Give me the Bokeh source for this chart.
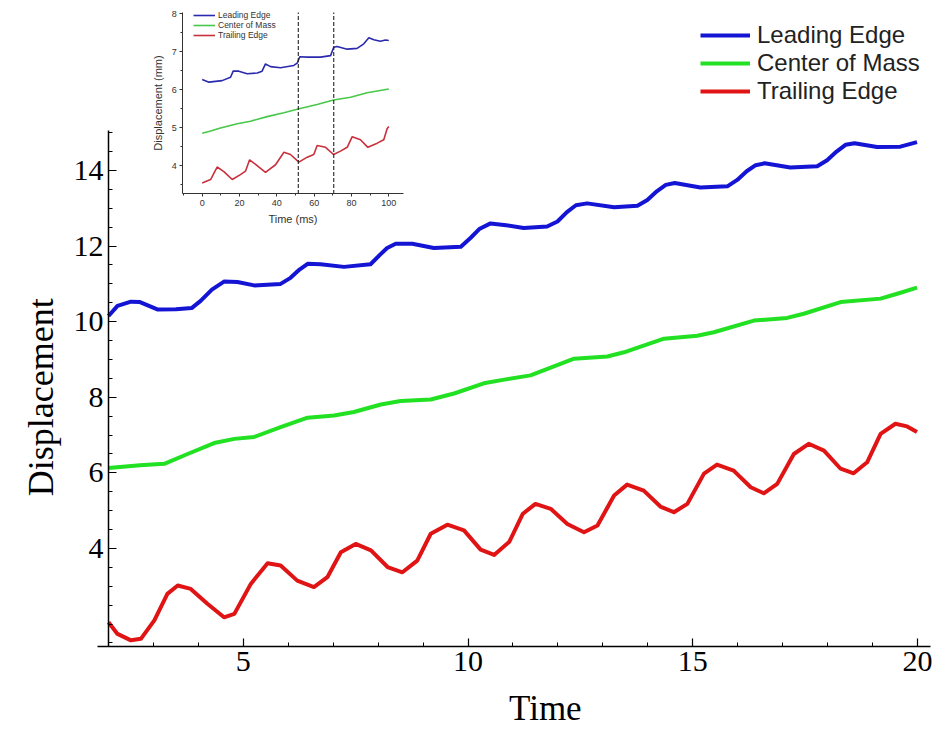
import numpy as np
from bokeh.plotting import figure
from bokeh.models import (Range1d, LinearAxis, FixedTicker, Legend, LegendItem, Label)
from bokeh.embed import file_html
from bokeh.resources import INLINE

# ---------------- main chart data ----------------
lead_t = [2.0, 2.2, 2.5, 2.7, 3.1, 3.5, 3.85, 4.05, 4.3, 4.57, 4.87, 5.24, 5.83, 6.05, 6.25, 6.43,
          6.72, 7.24, 7.83, 8.05, 8.2, 8.39, 8.76, 9.24, 9.84, 10.06, 10.25, 10.5, 10.8, 11.24,
          11.76, 11.99, 12.2, 12.4, 12.65, 13.25, 13.77, 13.99, 14.2, 14.4, 14.6, 15.17, 15.77,
          15.99, 16.2, 16.4, 16.6, 17.17, 17.77, 17.99, 18.2, 18.4, 18.6, 19.1, 19.62, 19.99]
lead_d = [10.15, 10.42, 10.53, 10.52, 10.32, 10.33, 10.36, 10.55, 10.85, 11.06, 11.05, 10.96, 11.0,
          11.16, 11.38, 11.53, 11.52, 11.45, 11.52, 11.78, 11.95, 12.06, 12.06, 11.95, 11.98,
          12.22, 12.45, 12.6, 12.56, 12.48, 12.52, 12.65, 12.9, 13.08, 13.13, 13.03, 13.07, 13.22,
          13.45, 13.62, 13.67, 13.55, 13.58, 13.75, 13.98, 14.14, 14.19, 14.08, 14.11, 14.27,
          14.5, 14.68, 14.72, 14.62, 14.63, 14.75]

com_t = [2.0, 2.7, 3.24, 3.76, 4.35, 4.8, 5.24, 5.83, 6.43, 7.02, 7.46, 8.06, 8.5, 9.17, 9.69,
         10.35, 10.87, 11.39, 12.36, 13.1, 13.47, 14.36, 15.1, 15.47, 16.36, 17.1, 17.47, 18.29,
         19.18, 19.55, 19.99]
com_d = [6.13, 6.2, 6.24, 6.5, 6.79, 6.9, 6.95, 7.21, 7.46, 7.52, 7.61, 7.81, 7.9, 7.94, 8.1,
         8.37, 8.48, 8.58, 9.02, 9.08, 9.19, 9.55, 9.63, 9.72, 10.03, 10.1, 10.21, 10.52, 10.61,
         10.74, 10.9]

trail_t = [2.0, 2.2, 2.5, 2.72, 3.02, 3.31, 3.54, 3.83, 4.2, 4.57, 4.8, 5.17, 5.54, 5.83, 6.2,
           6.57, 6.87, 7.17, 7.5, 7.84, 8.21, 8.54, 8.87, 9.17, 9.54, 9.91, 10.28, 10.58, 10.92,
           11.22, 11.5, 11.84, 12.21, 12.58, 12.88, 13.25, 13.54, 13.91, 14.28, 14.58, 14.88,
           15.25, 15.54, 15.91, 16.29, 16.58, 16.88, 17.25, 17.58, 17.92, 18.29, 18.58, 18.88,
           19.18, 19.51, 19.77, 19.99]
trail_d = [2.05, 1.74, 1.57, 1.61, 2.1, 2.8, 3.02, 2.93, 2.54, 2.18, 2.27, 3.07, 3.61, 3.55, 3.15,
           2.98, 3.24, 3.9, 4.12, 3.95, 3.51, 3.37, 3.68, 4.39, 4.63, 4.48, 3.97, 3.83, 4.18,
           4.92, 5.18, 5.05, 4.65, 4.43, 4.61, 5.4, 5.69, 5.53, 5.11, 4.96, 5.18, 5.98, 6.22,
           6.06, 5.62, 5.46, 5.71, 6.5, 6.77, 6.59, 6.11, 5.99, 6.28, 7.03, 7.3, 7.23, 7.08]

series_names = ["Leading Edge", "Center of Mass", "Trailing Edge"]
x_major = [5, 10, 15, 20]
x_minor = [3, 4, 6, 7, 8, 9, 11, 12, 13, 14, 16, 17, 18, 19]
y_major = [4, 6, 8, 10, 12, 14]
y_minor = [1.5, 2, 2.5, 3, 3.5, 4.5, 5, 5.5, 6.5, 7, 7.5, 8.5, 9, 9.5, 10.5, 11, 11.5,
           12.5, 13, 13.5, 14.5, 15]
x_axis_lo, x_axis_hi = 1.76, 20.3     # drawn extent of the time axis
y_axis_lo, y_axis_hi = 1.407, 15.06   # drawn extent of the displacement axis
x_title, y_title = "Time", "Displacement"

# ---------------- inset data ----------------
in_lead_t = [0, 3.6, 10.7, 15.2, 16.6, 19.6, 24.1, 29.5, 32.1, 33.9, 36.6, 42.0, 49.1, 50.9, 52.3,
             56.3, 63.4, 68.8, 70.5, 72.3, 77.7, 83.0, 86.6, 89.3, 92.0, 95.5, 98.2, 100]
in_lead_d = [6.27, 6.20, 6.24, 6.33, 6.49, 6.49, 6.42, 6.44, 6.49, 6.68, 6.61, 6.58, 6.64, 6.70,
             6.87, 6.86, 6.86, 6.90, 7.12, 7.14, 7.07, 7.09, 7.21, 7.37, 7.32, 7.28, 7.31, 7.30]
in_com_t = [0, 3.6, 9.8, 18.8, 25.9, 34.8, 43.8, 51.4, 61.6, 70.4, 79.5, 88.4, 100]
in_com_d = [4.85, 4.90, 4.99, 5.10, 5.17, 5.29, 5.39, 5.49, 5.61, 5.73, 5.80, 5.92, 6.02]
in_trail_t = [0, 4.5, 8.0, 11.6, 16.1, 20.5, 23.2, 25.4, 28.6, 33.9, 39.3, 43.8, 47.3, 51.8,
              56.3, 59.8, 61.6, 66.1, 70.4, 74.1, 77.7, 80.4, 84.8, 88.8, 93.8, 97.3, 99.1, 100]
in_trail_d = [3.54, 3.63, 3.96, 3.84, 3.63, 3.76, 3.85, 4.15, 4.03, 3.82, 4.02, 4.35, 4.29, 4.09,
              4.22, 4.29, 4.53, 4.48, 4.29, 4.38, 4.48, 4.76, 4.68, 4.48, 4.59, 4.68, 4.97, 5.03]
in_events = [51.5, 70.5]
in_x_major = [0, 20, 40, 60, 80, 100]
in_x_minor = [-10, 10, 30, 50, 70, 90]
in_y_major = [4, 5, 6, 7, 8]
in_y_minor = [3.5, 4.5, 5.5, 6.5, 7.5]
in_x_lo, in_x_hi = -10.4, 108
in_y_lo, in_y_hi = 3.25, 8.04

# ---------------- figure (frame fills the whole canvas) ----------------
W, H = 932, 730
p = figure(width=W, height=H, output_backend="svg", toolbar_location=None,
           x_range=Range1d(-0.4032, 20.335), y_range=Range1d(-0.815, 18.497),
           x_axis_type=None, y_axis_type=None,
           min_border_left=0, min_border_right=0, min_border_top=0, min_border_bottom=0)
p.outline_line_color = None
p.background_fill_color = "white"
p.border_fill_color = "white"

SERIF = "Liberation Serif"
SANS = "Liberation Sans"

xa = LinearAxis(ticker=FixedTicker(ticks=x_major, minor_ticks=x_minor),
                fixed_location=y_axis_lo, bounds=(x_axis_lo, x_axis_hi))
ya = LinearAxis(ticker=FixedTicker(ticks=y_major, minor_ticks=y_minor),
                fixed_location=2, bounds=(y_axis_lo, y_axis_hi))
for ax in (xa, ya):
    ax.axis_line_color = "black"
    ax.axis_line_width = 1.5
    ax.major_tick_line_color = "black"
    ax.minor_tick_line_color = "black"
    ax.major_tick_line_width = 1.2
    ax.minor_tick_line_width = 1
    ax.major_tick_in = 8
    ax.major_tick_out = 0
    ax.minor_tick_in = 4
    ax.minor_tick_out = 0
    ax.major_label_text_font = SERIF
    ax.major_label_text_font_size = "30px"
    ax.major_label_text_color = "black"
    ax.major_label_standoff = 5
p.add_layout(xa, "below")
p.add_layout(ya, "left")

p.add_layout(Label(x=0.487, y=8.0, text=y_title, angle=np.pi / 2,
                   text_align="center", text_baseline="middle",
                   text_font=SERIF, text_font_size="36px", text_color="black"))
p.add_layout(Label(x=11.72, y=-0.22, text=x_title,
                   text_align="center", text_baseline="middle",
                   text_font=SERIF, text_font_size="35px", text_color="black"))

colors = ["#1414d4", "#22e022", "#e01414"]
r1 = p.line(lead_t, lead_d, line_color=colors[0], line_width=4, line_join="round")
r2 = p.line(com_t, com_d, line_color=colors[1], line_width=4, line_join="round")
r3 = p.line(trail_t, trail_d, line_color=colors[2], line_width=4, line_join="round")

leg = Legend(items=[LegendItem(label=series_names[0], renderers=[r1]),
                    LegendItem(label=series_names[1], renderers=[r2]),
                    LegendItem(label=series_names[2], renderers=[r3])],
             location=(700, 625), orientation="vertical",
             border_line_color=None, background_fill_alpha=0,
             label_text_font=SANS, label_text_font_size="24px", label_text_color="#222222",
             glyph_width=50, glyph_height=28, label_height=28, label_standoff=7,
             padding=0, margin=0, spacing=0)
p.add_layout(leg, "center")

# ---------------- inset ----------------
p.extra_x_ranges = {"ix": Range1d(-108.09, 391.37)}
p.extra_y_ranges = {"iy": Range1d(-10.908, 8.354)}

ixa = LinearAxis(x_range_name="ix", y_range_name="iy", fixed_location=in_y_lo,
                 bounds=(in_x_lo, in_x_hi),
                 ticker=FixedTicker(ticks=in_x_major, minor_ticks=in_x_minor),
                 axis_label="Time (ms)")
iya = LinearAxis(x_range_name="ix", y_range_name="iy", fixed_location=in_x_lo,
                 bounds=(in_y_lo, in_y_hi),
                 ticker=FixedTicker(ticks=in_y_major, minor_ticks=in_y_minor),
                 axis_label="Displacement (mm)")
for ax in (ixa, iya):
    ax.axis_line_color = "#333333"
    ax.axis_line_width = 1
    ax.major_tick_line_color = "#333333"
    ax.minor_tick_line_color = "#333333"
    ax.major_tick_in = 0
    ax.major_tick_out = 3
    ax.minor_tick_in = 0
    ax.minor_tick_out = 2
    ax.major_label_text_font = SANS
    ax.major_label_text_font_size = "9px"
    ax.major_label_text_color = "#333333"
    ax.major_label_standoff = 3
    ax.axis_label_text_font = SANS
    ax.axis_label_text_font_size = "11px"
    ax.axis_label_text_font_style = "normal"
    ax.axis_label_text_color = "#333333"
    ax.axis_label_standoff = 4
p.add_layout(ixa, "below")
p.add_layout(iya, "left")

icolors = ["#2a2aae", "#48c848", "#c8303c"]
i1 = p.line(in_lead_t, in_lead_d, x_range_name="ix", y_range_name="iy",
            line_color=icolors[0], line_width=1.6)
i2 = p.line(in_com_t, in_com_d, x_range_name="ix", y_range_name="iy",
            line_color=icolors[1], line_width=1.6)
i3 = p.line(in_trail_t, in_trail_d, x_range_name="ix", y_range_name="iy",
            line_color=icolors[2], line_width=1.6)
p.segment(x0=in_events, y0=[in_y_lo] * len(in_events), x1=in_events, y1=[in_y_hi] * len(in_events),
          x_range_name="ix", y_range_name="iy", line_color="#222222", line_width=1.1,
          line_dash="4 2")

ileg = Legend(items=[LegendItem(label=series_names[0], renderers=[i1]),
                     LegendItem(label=series_names[1], renderers=[i2]),
                     LegendItem(label=series_names[2], renderers=[i3])],
              location=(193, 690), orientation="vertical",
              border_line_color=None, background_fill_alpha=0,
              label_text_font=SANS, label_text_font_size="8.5px", label_text_color="#333333",
              glyph_width=22, glyph_height=10, label_height=10, label_standoff=3,
              padding=0, margin=0, spacing=0)
p.add_layout(ileg, "center")

open("out.html", "w").write(file_html(p, INLINE))
